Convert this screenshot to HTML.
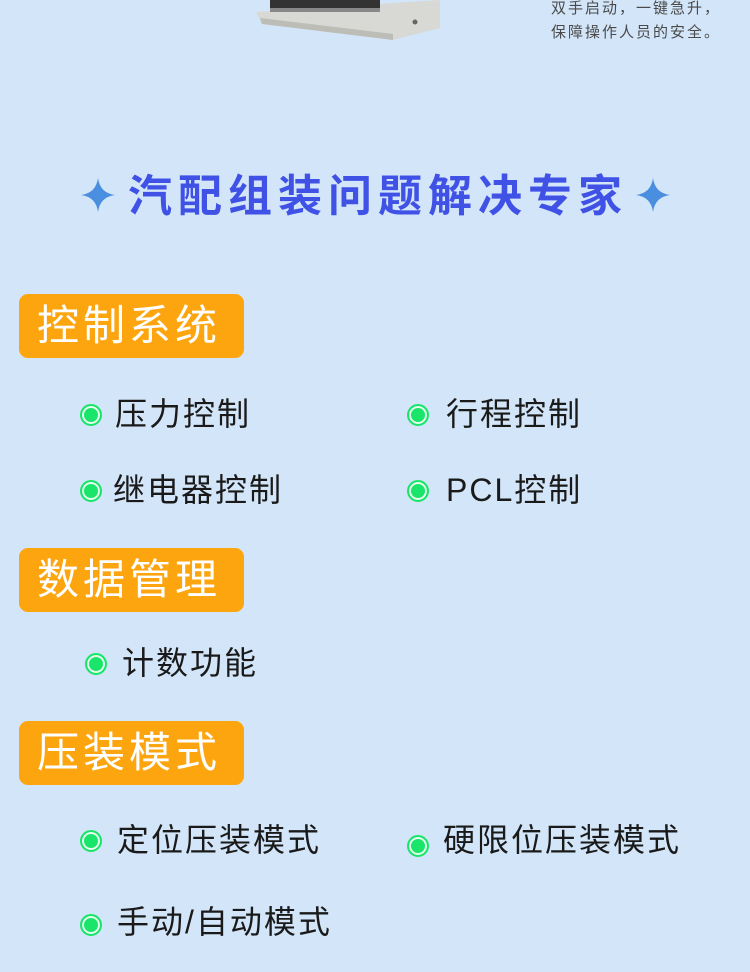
<!DOCTYPE html>
<html><head><meta charset="utf-8"><style>
*{margin:0;padding:0;box-sizing:border-box}
body{width:750px;height:972px;background:#d3e5f8;position:relative;overflow:hidden;font-family:"Liberation Sans","Noto Sans CJK SC",sans-serif}
.a{position:absolute;white-space:nowrap}
.badge{position:absolute;left:19px;width:225px;height:64px;background:#fda50f;border-radius:9px;color:#fff;font-size:42px;line-height:64px;padding-left:18px;letter-spacing:4px}
.it{position:absolute;font-size:32px;color:#1a1a1a;letter-spacing:2px;line-height:40px;white-space:nowrap}
.dot{position:absolute;width:22px;height:22px;border-radius:50%;background:#18e56a;border:2px solid #18e56a;box-shadow:inset 0 0 0 2px #e8fff0}
.title{position:absolute;left:0;width:750px;top:170px;text-align:center;font-size:44px;font-weight:bold;color:#4052e6;letter-spacing:6px;line-height:54px;padding-left:6px}
</style></head><body>
<svg class="a" style="left:250px;top:0" width="200" height="45">
<polygon points="6,12 190,0 190,28 143,40 12,24" fill="#d8d8d4"/>
<polygon points="12,24 143,40 143,34 10,18" fill="#bdbdb8"/>
<rect x="20" y="0" width="110" height="8" fill="#333"/>
<rect x="20" y="8" width="110" height="4" fill="#888"/>
<circle cx="165" cy="22" r="2.5" fill="#666"/>
</svg>
<div class="a" style="left:551px;top:-3px;font-size:15px;color:#4a4a4a;letter-spacing:2px;line-height:24px">双手启动，一键急升，<br>保障操作人员的安全。</div>
<svg class="a" style="left:81px;top:178px" width="34" height="34"><path d="M17 0 Q19 15 34 17 Q19 19 17 34 Q15 19 0 17 Q15 15 17 0Z" fill="#4a8ee0"/></svg>
<svg class="a" style="left:636px;top:178px" width="34" height="34"><path d="M17 0 Q19 15 34 17 Q19 19 17 34 Q15 19 0 17 Q15 15 17 0Z" fill="#4a8ee0"/></svg>
<div class="title">汽配组装问题解决专家</div>

<div class="badge" style="top:294px">控制系统</div>
<div class="dot" style="left:80px;top:404px"></div><div class="it" style="left:115px;top:394px">压力控制</div>
<div class="dot" style="left:407px;top:404px"></div><div class="it" style="left:446px;top:394px">行程控制</div>
<div class="dot" style="left:80px;top:480px"></div><div class="it" style="left:113px;top:470px">继电器控制</div>
<div class="dot" style="left:407px;top:480px"></div><div class="it" style="left:446px;top:470px">PCL控制</div>

<div class="badge" style="top:548px">数据管理</div>
<div class="dot" style="left:85px;top:653px"></div><div class="it" style="left:122px;top:643px">计数功能</div>

<div class="badge" style="top:721px">压装模式</div>
<div class="dot" style="left:80px;top:830px"></div><div class="it" style="left:117px;top:820px">定位压装模式</div>
<div class="dot" style="left:407px;top:835px"></div><div class="it" style="left:443px;top:820px">硬限位压装模式</div>
<div class="dot" style="left:80px;top:914px"></div><div class="it" style="left:117px;top:902px">手动/自动模式</div>
</body></html>
